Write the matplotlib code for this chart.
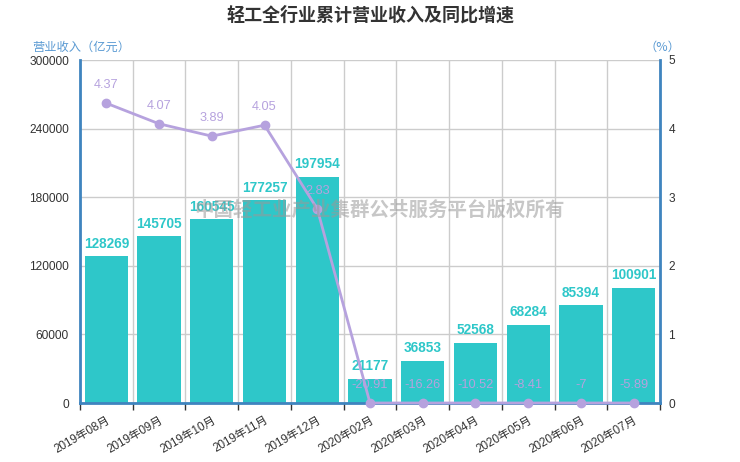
import numpy as np
import matplotlib
matplotlib.use('Agg')
import matplotlib.pyplot as plt

plt.rcParams['font.family'] = ['Liberation Sans', 'Noto Sans CJK SC']
CJK = ['Noto Sans CJK SC', 'DejaVu Sans']

months = ['2019年08月', '2019年09月', '2019年10月', '2019年11月', '2019年12月',
          '2020年02月', '2020年03月', '2020年04月', '2020年05月', '2020年06月', '2020年07月']
revenue = [128269, 145705, 160545, 177257, 197954, 21177, 36853, 52568, 68284, 85394, 100901]
growth = [4.37, 4.07, 3.89, 4.05, 2.83, -20.91, -16.26, -10.52, -8.41, -7, -5.89]
left_ticks = [0, 60000, 120000, 180000, 240000, 300000]
right_ticks = [0, 1, 2, 3, 4, 5]

bar_color = '#2ec7c9'
line_color = '#b6a2de'
axis_color = '#3f84bf'
name_color = '#5a9ad3'
text_color = '#333333'

fig = plt.figure(figsize=(7.4, 4.62), dpi=100)
ax = fig.add_axes([80 / 740, 59 / 462, 580 / 740, 343 / 462])
ax2 = ax.twinx()

x = np.arange(len(months))

# gridlines
ax.set_axisbelow(True)
for xb in np.arange(len(months) + 1) - 0.5:
    ax.axvline(xb, color='#cccccc', lw=1, zorder=0)
for yt in left_ticks:
    ax.axhline(yt, color='#cccccc', lw=1, zorder=0)

bars = ax.bar(x, revenue, width=0.82, color=bar_color, zorder=2)
for xi, v in zip(x, revenue):
    ax.annotate(str(v), (xi, v), xytext=(0, 4), textcoords='offset points',
                ha='center', va='bottom', color=bar_color, fontsize=9.8,
                fontweight='bold', zorder=5)

ax.set_xlim(-0.5, len(months) - 0.5)
ax.set_ylim(0, 300000)
ax.set_yticks(left_ticks)
ax.set_yticklabels([str(t) for t in left_ticks])

# growth line: axis starts at 0, values below are held at the bottom
shown = np.maximum(np.array(growth), 0)
ax2.plot(x, shown, color=line_color, lw=2, marker='o', ms=6, zorder=4, clip_on=False)
for xi, v, g in zip(x, shown, growth):
    ax2.annotate('%g' % g, (xi, v), xytext=(0, 8.5), textcoords='offset points',
                 ha='center', va='bottom', color=line_color, fontsize=9.2, zorder=5)
ax2.set_ylim(0, 5)
ax2.set_yticks(right_ticks)

ax.set_zorder(1)
ax2.set_zorder(2)
ax2.patch.set_visible(False)

for a in (ax, ax2):
    a.spines['top'].set_visible(False)
    for s in ('left', 'right', 'bottom'):
        a.spines[s].set_color(axis_color)
        a.spines[s].set_linewidth(2)
ax.spines['right'].set_visible(False)
ax2.spines['left'].set_visible(False)
ax2.spines['bottom'].set_visible(False)

ax.tick_params(axis='y', length=0, labelsize=8.6, labelcolor=text_color, pad=8)
ax2.tick_params(axis='y', length=0, labelsize=8.6, labelcolor=text_color, pad=6)
ax.set_xticks(np.arange(len(months) + 1) - 0.5, minor=False)
ax.set_xticklabels([''] * (len(months) + 1))
ax.set_xticks(x, minor=True)
ax.set_xticklabels(months, minor=True, rotation=30, ha='right', rotation_mode='anchor',
                   fontsize=8.4, color=text_color)
ax.tick_params(axis='x', which='major', length=5, color='#333333', width=1)
ax.tick_params(axis='x', which='minor', length=0, pad=8)

fig.text(0.5, 1 - 15 / 462, '轻工全行业累计营业收入及同比增速', ha='center', va='center',
         fontsize=13, fontweight='bold', color=text_color, family=CJK)
fig.text(32 / 740, 1 - 47 / 462, '营业收入（亿元）', ha='left', va='center',
         fontsize=8.8, color=name_color, family=CJK)
fig.text(662 / 740, 1 - 47 / 462, '（%）', ha='center', va='center',
         fontsize=8.8, color=name_color, family=CJK)
fig.text(380 / 740, 1 - 210 / 462, '中国轻工业产业集群公共服务平台版权所有', ha='center',
         va='center', fontsize=14, fontweight='bold', color='#999999', alpha=0.55,
         zorder=10, family=CJK)

fig.savefig('out.png', dpi=100)
